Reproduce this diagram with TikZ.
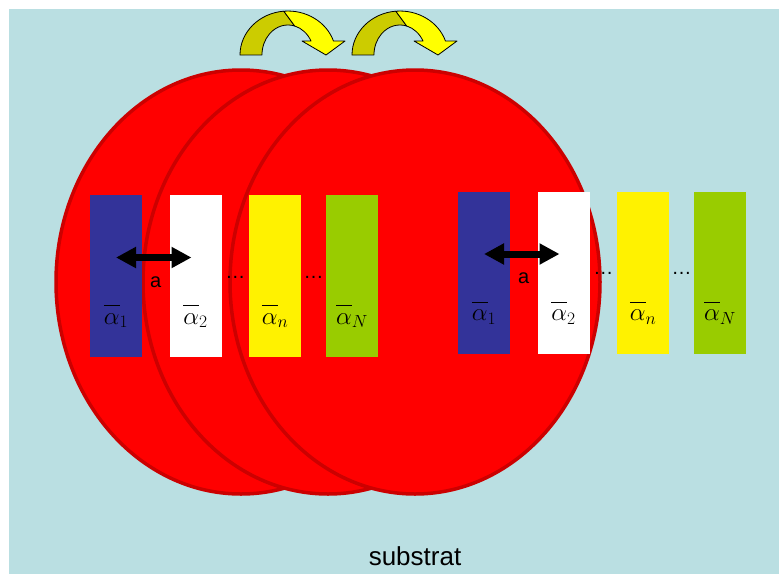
\documentclass[tikz,border=0pt]{standalone}
\usepackage{fix-cm}
\usepackage{fontspec}
\newfontfamily\arialfont{Liberation Sans}
\usetikzlibrary{arrows.meta,positioning,calc}
\definecolor{sky}{RGB}{186,223,226}
\definecolor{disc}{RGB}{255,0,0}
\definecolor{rim}{RGB}{204,0,0}
\definecolor{navy}{RGB}{51,51,153}
\definecolor{lime}{RGB}{153,204,0}
\definecolor{bright}{RGB}{255,255,0}
\definecolor{dimyellow}{RGB}{204,204,0}

\begin{document}
\begin{tikzpicture}[x=1pt,y=1pt,node distance=27.5pt,
  wafer/.style={fill=disc,draw=rim,line width=3.5pt},
  bar/.style={minimum width=52pt,minimum height=162pt,inner sep=0pt,outer sep=0pt},
  alab/.style={anchor=base,inner sep=0pt,font=\fontsize{25}{27}\selectfont},
  txt/.style={inner sep=0pt,font=\arialfont\fontsize{20}{22}\selectfont},
  gap/.style={{Triangle[length=20pt,width=20pt]}-{Triangle[length=20pt,width=20pt]},line width=7pt},
  turnback/.style={fill=dimyellow,draw=black,line width=0.8pt,line join=round},
  turnfront/.style={fill=bright,draw=black,line width=0.8pt,line join=round}]
 \useasboundingbox (0,0) rectangle (779,-574);
 \fill[sky] (9,-9) rectangle (779,-574);
 % three overlapping discs
 \draw[wafer] (241,-282) ellipse [x radius=185,y radius=212];
 \draw[wafer] (328,-282) ellipse [x radius=185,y radius=212];
 \draw[wafer] (415,-282) ellipse [x radius=185,y radius=212];
 % rotation arrows
 \foreach \s in {0,112}{
  \begin{scope}[shift={(\s,0)}]
   \draw[turnback] (240,-55) arc[start angle=180,end angle=95,x radius=48,y radius=44]
     -- (294.7,-26) arc[start angle=75,end angle=180,x radius=26,y radius=30] -- cycle;
   \draw[turnfront] (283.8,-11.2) arc[start angle=95,end angle=18.55,x radius=48,y radius=44]
     -- (345,-41) -- (326,-55) -- (302,-41) -- (311,-41)
     arc[start angle=27.8,end angle=75,x radius=26,y radius=30] -- cycle;
  \end{scope}
 }
 % left row
 \node[bar,fill=navy] (lA1) at (116,-276) {};
 \node[bar,fill=white,right=of lA1] (lA2) {};
 \node[bar,fill=yellow,right=of lA2] (lAn) {};
 \node[bar,fill=lime,right=25pt of lAn] (lAN) {};
 % right row
 \node[bar,fill=navy] (rA1) at (484,-272.5) {};
 \node[bar,fill=white,right=of rA1] (rA2) {};
 \node[bar,fill=yellow,right=of rA2] (rAn) {};
 \node[bar,fill=lime,right=25pt of rAn] (rAN) {};
 \foreach \r in {l,r}{
  \node[alab] at ([yshift=33]\r A1.south) {$\overline{\alpha\vphantom{l}}_1$};
  \node[alab] at ([yshift=33]\r A2.south) {$\overline{\alpha\vphantom{l}}_2$};
  \node[alab] at ([yshift=33]\r An.south) {$\overline{\alpha\vphantom{l}}_n$};
  \node[alab] at ([yshift=33]\r AN.south) {$\overline{\alpha\vphantom{l}}_N$};
  \node[txt] (\r a) at ([yshift=-6]$(\r A1.east)!0.5!(\r A2.west)$) {a};
  \node[txt,anchor=base] (\r d1) at ([yshift=-2]$(\r A2.east)!0.5!(\r An.west)$) {\dots};
  \node[txt,anchor=base] (\r d2) at ([yshift=-2]$(\r An.east)!0.5!(\r AN.west)$) {\dots};
  \draw[gap] ([yshift=18.5]\r A1.center) -- ([xshift=-4,yshift=18.5]\r A2.center);
 }
 \node[txt,anchor=base,font=\arialfont\fontsize{26}{28}\selectfont] (sub) at (415,-565) {substrat};
\end{tikzpicture}
\end{document}
